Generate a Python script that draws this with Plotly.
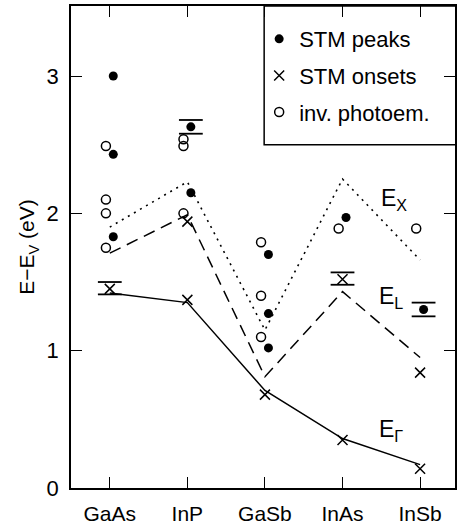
import plotly.graph_objects as go

categories = ["GaAs", "InP", "GaSb", "InAs", "InSb"]

# STM peaks (filled circles): (category index, energy)
peaks_cat = [0, 0, 0, 1, 1, 2, 2, 2, 3, 4]
peaks_E = [3.00, 2.43, 1.83, 2.63, 2.15, 1.70, 1.27, 1.02, 1.97, 1.30]

# STM onsets (crosses)
onsets_cat = [0, 1, 1, 2, 3, 3, 4, 4]
onsets_E = [1.45, 1.94, 1.37, 0.68, 1.52, 0.35, 0.84, 0.14]

# inverse photoemission (open circles)
photo_cat = [0, 0, 0, 0, 1, 1, 1, 2, 2, 2, 3, 4]
photo_E = [2.49, 2.10, 2.00, 1.75, 2.54, 2.49, 2.00, 1.79, 1.40, 1.10, 1.89, 1.89]

# error bar caps: (category, upper, lower, which series)
err_cat = [0, 1, 3, 4]
err_hi = [1.50, 2.68, 1.57, 1.35]
err_lo = [1.41, 2.58, 1.48, 1.25]
err_series = ["onset", "peak", "onset", "peak"]

# band edges
E_Gamma = [1.42, 1.35, 0.71, 0.36, 0.17]
E_L = [1.71, 1.99, 0.81, 1.43, 0.95]
E_X = [1.90, 2.23, 1.15, 2.25, 1.66]

OFF_PEAK = 0.045
OFF_PHOTO = -0.05
FONT = "Liberation Sans Narrow, Arial Narrow, Liberation Sans, Arial, sans-serif"
BLACK = "black"

idx = list(range(len(categories)))
fig = go.Figure()

fig.add_trace(go.Scatter(x=idx, y=E_X, mode="lines", showlegend=False,
                         line=dict(color=BLACK, width=1.6, dash="2px,5px")))
fig.add_trace(go.Scatter(x=idx, y=E_L, mode="lines", showlegend=False,
                         line=dict(color=BLACK, width=1.5, dash="12px,7px")))
fig.add_trace(go.Scatter(x=idx, y=E_Gamma, mode="lines", showlegend=False,
                         line=dict(color=BLACK, width=1.5)))

cap_x = [c + (OFF_PEAK if s == "peak" else 0) for c, s in zip(err_cat, err_series)]
fig.add_trace(go.Scatter(x=cap_x + cap_x, y=err_hi + err_lo, mode="markers", showlegend=False,
                         marker=dict(symbol="line-ew-open", size=17, color=BLACK,
                                     line=dict(color=BLACK, width=1.8))))

fig.add_trace(go.Scatter(x=[c + OFF_PEAK for c in peaks_cat], y=peaks_E, mode="markers",
                         name="STM peaks", legendgroup="a",
                         marker=dict(symbol="circle", size=9, color=BLACK)))
fig.add_trace(go.Scatter(x=onsets_cat, y=onsets_E, mode="markers",
                         name="STM onsets", legendgroup="b",
                         marker=dict(symbol="x-thin-open", size=10, color=BLACK,
                                     line=dict(color=BLACK, width=1.5))))
fig.add_trace(go.Scatter(x=[c + OFF_PHOTO for c in photo_cat], y=photo_E, mode="markers",
                         name="inv. photoem.", legendgroup="c",
                         marker=dict(symbol="circle-open", size=9, color=BLACK,
                                     line=dict(color=BLACK, width=1.5))))

for txt, xv, yv in [("E<sub>X</sub>", 3.47, 2.10), ("E<sub>L</sub>", 3.45, 1.39),
                    ("E<sub>Γ</sub>", 3.45, 0.42)]:
    fig.add_annotation(x=xv, y=yv, text=txt, showarrow=False, xanchor="left",
                       yanchor="middle", font=dict(family=FONT, size=23, color=BLACK))

fig.add_shape(type="rect", xref="paper", yref="paper", x0=0.503, x1=1.01, y0=0.712, y1=1.0,
              line=dict(color=BLACK, width=1.5))

fig.update_layout(
    width=457, height=527,
    margin=dict(l=71, r=0, t=6, b=39),
    paper_bgcolor="white", plot_bgcolor="white",
    font=dict(family=FONT, size=21, color=BLACK),
    legend=dict(x=0.49, y=0.975, xanchor="left", yanchor="top",
                bgcolor="rgba(0,0,0,0)", borderwidth=0, tracegroupgap=5,
                font=dict(family=FONT, size=22, color=BLACK), itemwidth=30),
    xaxis=dict(range=[-0.5, 4.45], tickmode="array", tickvals=idx, ticktext=categories,
               showline=True, linecolor=BLACK, linewidth=1.5, mirror="ticks",
               ticks="inside", ticklen=11, tickwidth=1.3, tickcolor=BLACK,
               showgrid=False, zeroline=False, ticklabelstandoff=6,
               tickfont=dict(family=FONT, size=21, color=BLACK)),
    yaxis=dict(range=[0, 3.51], tickvals=[0, 1, 2, 3],
               showline=True, linecolor=BLACK, linewidth=1.5, mirror="ticks",
               ticks="inside", ticklen=11, tickwidth=1.3, tickcolor=BLACK,
               showgrid=False, zeroline=False, ticklabelstandoff=6,
               tickfont=dict(family=FONT, size=22, color=BLACK),
               title=dict(text="E−E<sub>V</sub> (eV)", standoff=6,
                          font=dict(family=FONT, size=21, color=BLACK))),
)

fig.write_html("out.html")
